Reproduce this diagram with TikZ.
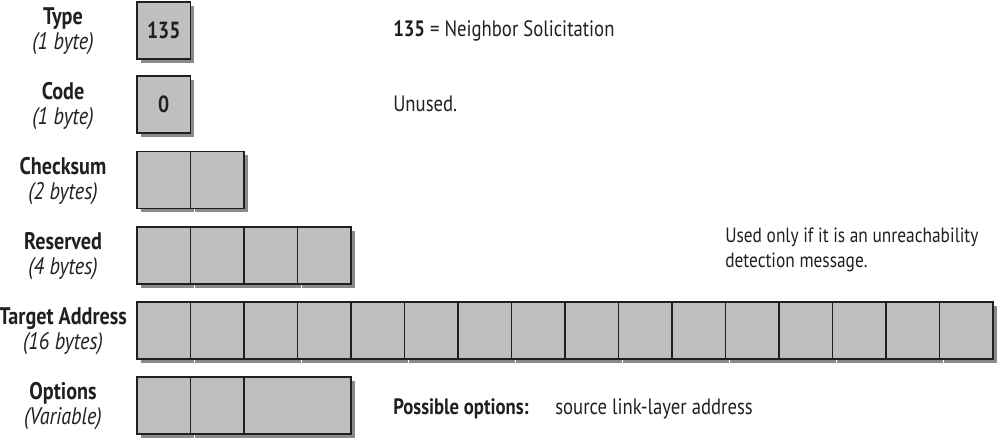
\documentclass[tikz,border=0pt]{standalone}
\usepackage{fontspec}
\setmainfont{PT Sans}[FakeStretch=0.84]
\usetikzlibrary{shadows}
\definecolor{cellfill}{HTML}{BEBFC1}
\definecolor{cellshadow}{HTML}{8A8A8A}
\definecolor{inkc}{HTML}{231F20}
\tikzset{
  cell/.style={draw=inkc, line width=1.1pt, fill=cellfill, minimum height=42.75pt,
    minimum width=40.1pt, inner sep=0pt, font=\bfseries\fontsize{17.5}{19}\selectfont, text=inkc,
    drop shadow={shadow xshift=3pt, shadow yshift=-3pt, fill=cellshadow, opacity=1}},
  widecell/.style={cell, minimum width=80.2pt},
  fieldlabel/.style={align=center, text=inkc, font=\fontsize{18}{19}\selectfont},
  note/.style={anchor=base west, inner sep=0pt, text=inkc, font=\fontsize{16.7}{19}\selectfont, align=left}
}
\begin{document}
\begin{tikzpicture}[x=0.75pt,y=-0.75pt]
\useasboundingbox (0,0) rectangle (1000,441);
% labels
\node[fieldlabel] (lt) at (63,31) {\textbf{Type}\\\textit{(1 byte)}};
\node[fieldlabel] (lc) at (63,106) {\textbf{Code}\\\textit{(1 byte)}};
\node[fieldlabel] (lk) at (63,181) {\textbf{Checksum}\\\textit{(2 bytes)}};
\node[fieldlabel] (lr) at (63,256) {\textbf{Reserved}\\\textit{(4 bytes)}};
\node[fieldlabel] (la) at (63,331) {\textbf{Target Address}\\\textit{(16 bytes)}};
\node[fieldlabel] (lo) at (63,406) {\textbf{Options}\\\textit{(Variable)}};
% cells
\node[cell] (type) at (163.75,30.5) {135};
\node[cell] (code) at (163.75,104.5) {0};
\foreach \i in {0,1} \node[cell] (ck\i) at (163.75+53.5*\i,180) {};
\foreach \i in {0,...,3} \node[cell] (rs\i) at (163.75+53.5*\i,255.5) {};
\foreach \i in {0,...,15} \node[cell] (ta\i) at (163.75+53.5*\i,330.5) {};
\foreach \i in {0,1} \node[cell] (op\i) at (163.75+53.5*\i,405.5) {};
\node[widecell] (op2) at (297.5,405.5) {};
% notes
\node[note] (ntype) at (393,37) {\textbf{135} = Neighbor Solicitation};
\node[note] (ncode) at (393,112) {Unused.};
\node[note, font=\fontsize{15.5}{18.75}\selectfont] (nres) at (725,268) {Used only if it is an unreachability\\detection message.};
\node[note] (nopt) at (393,415) {\textbf{Possible options:}};
\node[note] (nopt2) at (555,415) {source link-layer address};
\end{tikzpicture}
\end{document}
